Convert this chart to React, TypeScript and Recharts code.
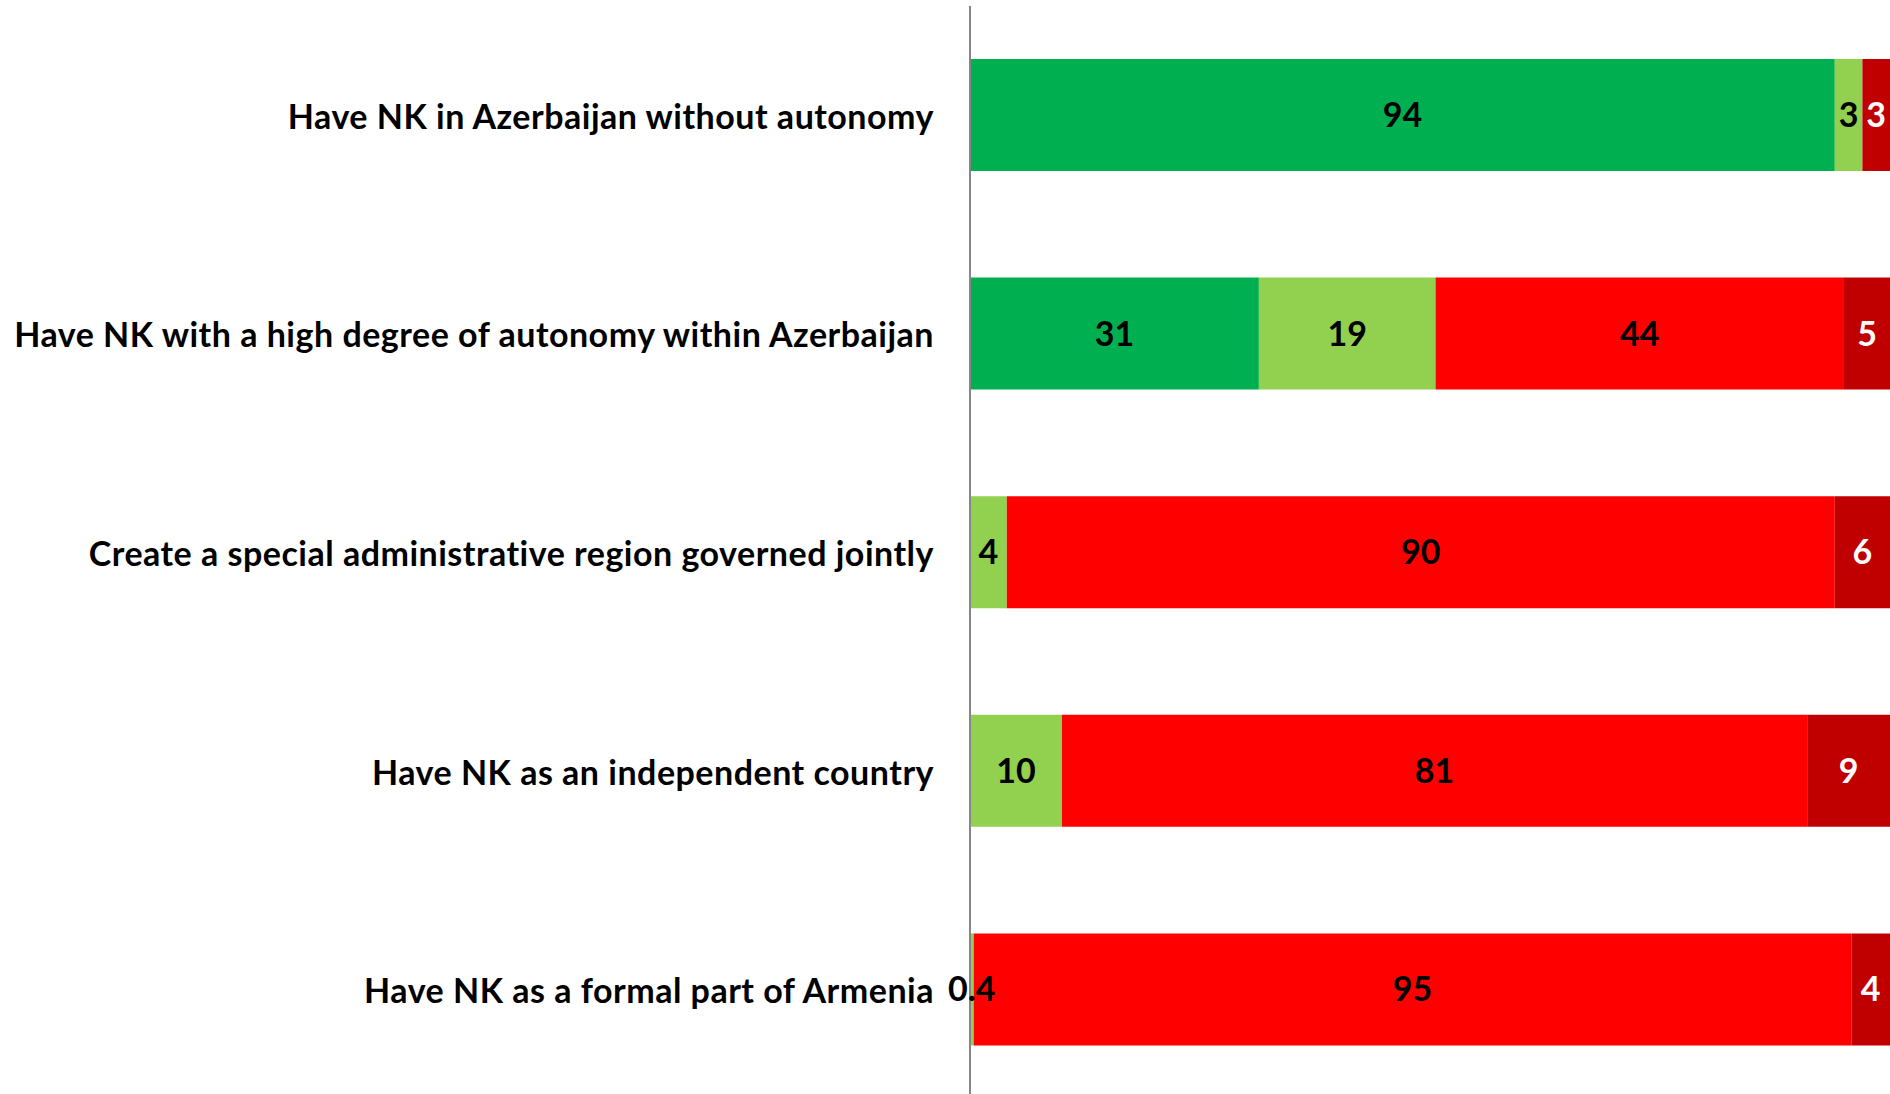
import React from 'react';
import { BarChart, Bar, XAxis, YAxis, LabelList } from 'recharts';

const categories = [
  'Have NK in Azerbaijan without autonomy',
  'Have NK with a high degree of autonomy within Azerbaijan',
  'Create a special administrative region governed jointly',
  'Have NK as an independent country',
  'Have NK as a formal part of Armenia',
];
const darkGreen = [94, 31.4, 0, 0, 0];
const lightGreen = [3, 19.2, 4, 10, 0.4];
const red = [0, 44.4, 90, 81, 95.4];
const darkRed = [3, 5, 6, 9, 4.2];

const data = categories.map((name, i) => ({
  name,
  dg: darkGreen[i],
  lg: lightGreen[i],
  r: red[i],
  dr: darkRed[i],
}));

const FONT = 'Lato, "Open Sans", sans-serif';

const fmt = (v: any) => {
  const n = Number(v);
  if (!n) return '';
  if (n < 1) return String(n);
  return String(Math.round(n));
};

const Tick = (props: any) => {
  const { y, payload } = props;
  return (
    <text x={934} y={y} textAnchor="end" dominantBaseline="central" fontSize={34} fontWeight={700} letterSpacing={0.5} fontFamily={FONT} fill="#000">
      {payload.value}
    </text>
  );
};

const series = [
  { key: 'dg', color: '#00B050', text: '#000' },
  { key: 'lg', color: '#92D050', text: '#000' },
  { key: 'r', color: '#FF0000', text: '#000' },
  { key: 'dr', color: '#C00000', text: '#fff' },
];

export default function App() {
  return (
    <div style={{ position: 'absolute', left: 0, top: 0, width: 1890, height: 1094, overflow: 'hidden', background: '#fff' }}>
      <BarChart width={1890} height={1099} data={data} layout="vertical" margin={{ top: 6, right: 0, bottom: 0, left: 0 }} barSize={112}>
        <XAxis type="number" domain={[0, 100]} hide />
        <YAxis type="category" dataKey="name" width={970} axisLine={{ stroke: '#868686', strokeWidth: 2 }} tickLine={false} tick={<Tick />} interval={0} />
        {series.map((s) => (
          <Bar key={s.key} dataKey={s.key} stackId="a" fill={s.color} isAnimationActive={false}>
            <LabelList dataKey={s.key} position="center" formatter={fmt} fill={s.text} fontSize={34} fontWeight={700} fontFamily={FONT} />
          </Bar>
        ))}
      </BarChart>
    </div>
  );
}
